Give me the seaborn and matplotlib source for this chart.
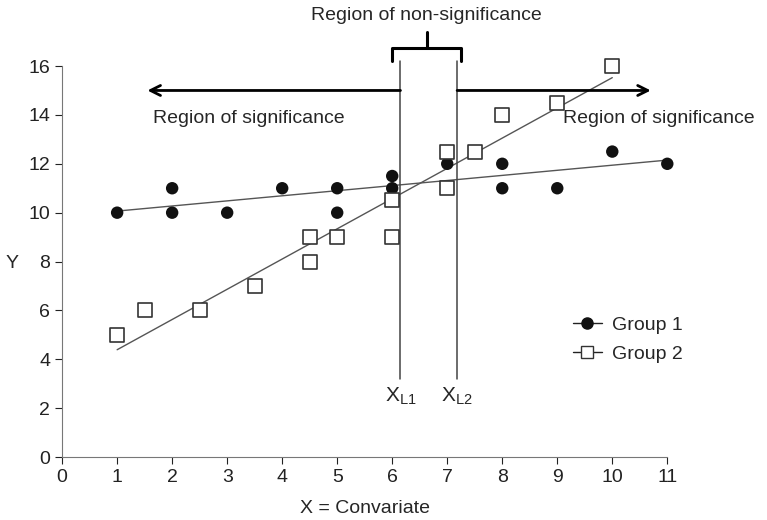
import matplotlib
matplotlib.use("Agg")
import matplotlib.pyplot as plt
from matplotlib.lines import Line2D
import seaborn as sns
import pandas as pd

g1_x = [1, 2, 2, 3, 4, 5, 5, 6, 6, 7, 8, 8, 9, 10, 11]
g1_y = [10, 11, 10, 10, 11, 11, 10, 11.5, 11, 12, 12, 11, 11, 12.5, 12]
g2_x = [1, 1.5, 2.5, 3.5, 4.5, 4.5, 5, 6, 6, 7, 7, 7.5, 8, 9, 10]
g2_y = [5, 6, 6, 7, 9, 8, 9, 10.5, 9, 12.5, 11, 12.5, 14, 14.5, 16]
x_ticks = list(range(0, 12))
y_ticks = list(range(0, 17, 2))
xl1, xl2 = 6.15, 7.18

sns.set_style("ticks")
plt.rcParams['font.family'] = ['Liberation Sans', 'DejaVu Sans']
FS = 14

df1 = pd.DataFrame({"x": g1_x, "y": g1_y})
df2 = pd.DataFrame({"x": g2_x, "y": g2_y})

fig = plt.figure(figsize=(7.67, 5.2), dpi=100)
ax = fig.add_axes([0.081, 0.121, 0.789, 0.752])

sns.regplot(data=df1, x="x", y="y", ax=ax, ci=None, marker="o",
            scatter_kws=dict(s=80, color="#111111", alpha=1, clip_on=False, zorder=3,
                             edgecolors="none"),
            line_kws=dict(color="#555555", lw=1))
sns.regplot(data=df2, x="x", y="y", ax=ax, ci=None, marker="s",
            scatter_kws=dict(s=110, facecolors="white", edgecolors="#333333", linewidths=1.2,
                             alpha=1, clip_on=False, zorder=3),
            line_kws=dict(color="#555555", lw=1))

ax.set_xlim(0, 11)
ax.set_ylim(0, 16)
ax.set_xticks(x_ticks)
ax.set_yticks(y_ticks)
ax.tick_params(labelsize=FS, colors="#222222", length=5)
for s in ["left", "bottom"]:
    ax.spines[s].set_color("#777777")
sns.despine(ax=ax)
ax.set_xlabel("X = Convariate", fontsize=FS, labelpad=10)
ax.set_ylabel("Y", fontsize=FS, rotation=0, va="center", ha="center")
ax.yaxis.set_label_coords(-0.083, 0.496)

# vertical boundaries
for xv in (xl1, xl2):
    ax.plot([xv, xv], [3.2, 16.2], color="#444444", lw=1.1, clip_on=False)
ax.text(xl1, 2.5, r"X$_{\mathregular{L1}}$", ha="center", va="center", fontsize=15)
ax.text(xl2, 2.5, r"X$_{\mathregular{L2}}$", ha="center", va="center", fontsize=15)

# arrows
ax.annotate("", xy=(1.55, 15.0), xytext=(xl1, 15.0),
            arrowprops=dict(arrowstyle="->", color="black", lw=2, shrinkA=0, shrinkB=0,
                            mutation_scale=18))
ax.annotate("", xy=(10.7, 15.0), xytext=(xl2, 15.0),
            arrowprops=dict(arrowstyle="->", color="black", lw=2, shrinkA=0, shrinkB=0,
                            mutation_scale=18))
ax.text(3.4, 13.85, "Region of significance", ha="center", va="center", fontsize=FS)
ax.text(10.85, 13.85, "Region of significance", ha="center", va="center", fontsize=FS)

# bracket
bl, br = 6.0, 7.25
yb, yt = 16.2, 16.75
ax.plot([bl, bl, br, br], [yb, yt, yt, yb], color="black", lw=2.2, clip_on=False)
ax.plot([(bl + br) / 2] * 2, [yt, yt + 0.65], color="black", lw=2.2, clip_on=False)
ax.text((bl + br) / 2, 18.05, "Region of non-significance", ha="center", va="center",
        fontsize=FS, clip_on=False)

handles = [
    Line2D([0], [0], color="#222222", lw=1, marker="o", markersize=8,
           markerfacecolor="#111111", markeredgecolor="#111111"),
    Line2D([0], [0], color="#222222", lw=1, marker="s", markersize=9,
           markerfacecolor="white", markeredgecolor="#333333"),
]
ax.legend(handles, ["Group 1", "Group 2"], loc="center left", bbox_to_anchor=(0.815, 0.30),
          frameon=False, fontsize=FS, handlelength=1.5, handletextpad=0.5, labelspacing=0.6)

fig.savefig("out.png", dpi=100)
